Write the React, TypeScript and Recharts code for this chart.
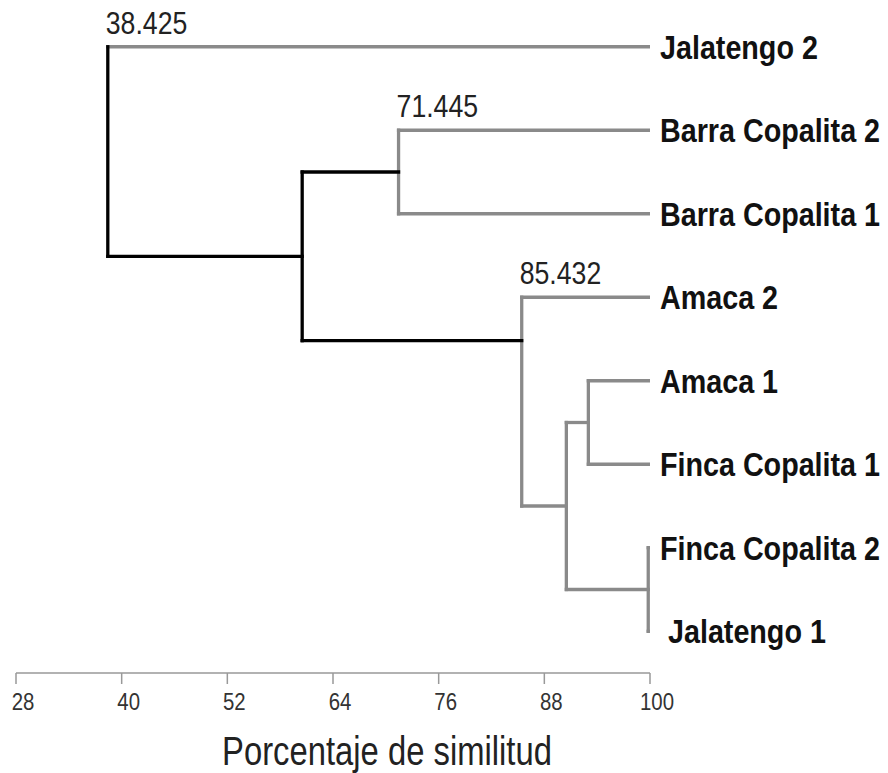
import { ComposedChart, Line, Scatter, XAxis, YAxis, Label } from "recharts";

// leaves, top to bottom
const leafNames = [
  "Jalatengo 2",
  "Barra Copalita 2",
  "Barra Copalita 1",
  "Amaca 2",
  "Amaca 1",
  "Finca Copalita 1",
  "Finca Copalita 2",
  "Jalatengo 1",
];
const leafSimilarity = 100;

// merge nodes of the dendrogram
const nodeIds = ["N1", "N2", "N3", "N4", "N5", "N6", "N7"];
const nodeSimilarity = [99.8, 93.0, 90.5, 85.432, 71.445, 60.5, 38.425];
const nodeChildA = ["L6", "L4", "N2", "L3", "L1", "N5", "L0"];
const nodeChildB = ["L7", "L5", "N1", "N3", "L2", "N4", "N6"];
// where the parent's link meets each node (leaf index units)
const nodeJoinY = [6.5, 4.5, 5.5, 3.52, 1.5, 2.51, 1.25];
const labeledNodes = ["N7", "N5", "N4"];

const xTicks = [28, 40, 52, 64, 76, 88, 100];

const BLACK_CUT = 65;
const GRAY = "#8a8a8a";
const FONT = "'Liberation Sans', Arial, sans-serif";

function pos(id: string) {
  if (id[0] === "L") return { x: leafSimilarity, y: Number(id.slice(1)) };
  const i = nodeIds.indexOf(id);
  return { x: nodeSimilarity[i], y: nodeJoinY[i] };
}

type Seg = { key: string; pts: { x: number; y: number }[]; dark: boolean };

const segs: Seg[] = [];
nodeIds.forEach((id, i) => {
  const sim = nodeSimilarity[i];
  const a = pos(nodeChildA[i]);
  const b = pos(nodeChildB[i]);
  const dark = sim < BLACK_CUT;
  [nodeChildA[i], nodeChildB[i]].forEach((c, k) => {
    const p = k === 0 ? a : b;
    segs.push({
      key: `${id}-${c}`,
      pts: [{ x: sim, y: p.y }, { x: p.x, y: p.y }],
      dark: dark && c[0] === "N",
    });
  });
  segs.push({ key: `${id}-v`, pts: [{ x: sim, y: a.y }, { x: sim, y: b.y }], dark });
});
// gray first, black on top
segs.sort((s, t) => Number(s.dark) - Number(t.dark));

const labelPts = labeledNodes.map((id) => {
  const i = nodeIds.indexOf(id);
  return { x: nodeSimilarity[i], y: pos(nodeChildA[i]).y, label: nodeSimilarity[i].toFixed(3) };
});

// condensed text: no narrow font installed, so squeeze horizontally
function NarrowText({ x, y, children, anchor = "start", squeeze = 0.82, dy, ...rest }: any) {
  return (
    <text transform={`translate(${x} ${y}) scale(${squeeze} 1)`} x={0} y={0} dy={dy} textAnchor={anchor} fontFamily={FONT} {...rest}>
      {children}
    </text>
  );
}

function LeafTick(props: any) {
  const { x, y, payload } = props;
  const shift = payload.value === 7 ? 8 : 0;
  return (
    <NarrowText x={x + shift} y={y} dy="0.36em" squeeze={0.87} fontWeight="bold" fontSize={33} fill="#111">
      {leafNames[payload.value]}
    </NarrowText>
  );
}

function XTick(props: any) {
  const { x, y, payload } = props;
  return (
    <NarrowText x={x + 7} y={y} dy="0.72em" anchor="middle" squeeze={0.85} fontSize={24} fill="#333">
      {payload.value}
    </NarrowText>
  );
}

function NodeLabel(props: any) {
  const { cx, cy, payload } = props;
  return (
    <NarrowText x={cx - 2} y={cy - 13} squeeze={0.86} fontSize={31} fill="#222">
      {payload.label}
    </NarrowText>
  );
}

function AxisTitle(props: any) {
  const vb = props.viewBox;
  return (
    <NarrowText x={vb.x + vb.width / 2 + 54} y={vb.y + vb.height - 8} anchor="middle" fontSize={40} fill="#222">
      Porcentaje de similitud
    </NarrowText>
  );
}

export default function App() {
  return (
    <div style={{ position: "absolute", left: 0, top: 0, width: 888, height: 773, background: "#fff" }}>
      <ComposedChart width={888} height={773} margin={{ top: 5, right: 0, bottom: 0, left: 16 }}>
        <XAxis
          type="number"
          dataKey="x"
          domain={[28, 100]}
          ticks={xTicks}
          allowDataOverflow
          height={100}
          tickSize={11}
          tickMargin={9}
          axisLine={{ stroke: "#999", strokeWidth: 1.5 }}
          tickLine={{ stroke: "#999", strokeWidth: 1.5 }}
          tick={<XTick />}
        >
          <Label position="insideBottom" content={<AxisTitle />} />
        </XAxis>
        <YAxis
          type="number"
          dataKey="y"
          orientation="right"
          domain={[-0.5, 7.5]}
          reversed
          allowDataOverflow
          ticks={leafNames.map((_, i) => i)}
          interval={0}
          width={238}
          axisLine={false}
          tickLine={false}
          tickSize={0}
          tickMargin={10}
          tick={<LeafTick />}
        />
        {segs.map((s) => (
          <Line
            key={s.key}
            data={s.pts}
            dataKey="y"
            type="linear"
            stroke={s.dark ? "#000" : GRAY}
            strokeWidth={3.3}
            strokeLinecap="square"
            dot={false}
            activeDot={false}
            isAnimationActive={false}
          />
        ))}
        <Scatter data={labelPts} dataKey="y" shape={<NodeLabel />} isAnimationActive={false} />
      </ComposedChart>
    </div>
  );
}
